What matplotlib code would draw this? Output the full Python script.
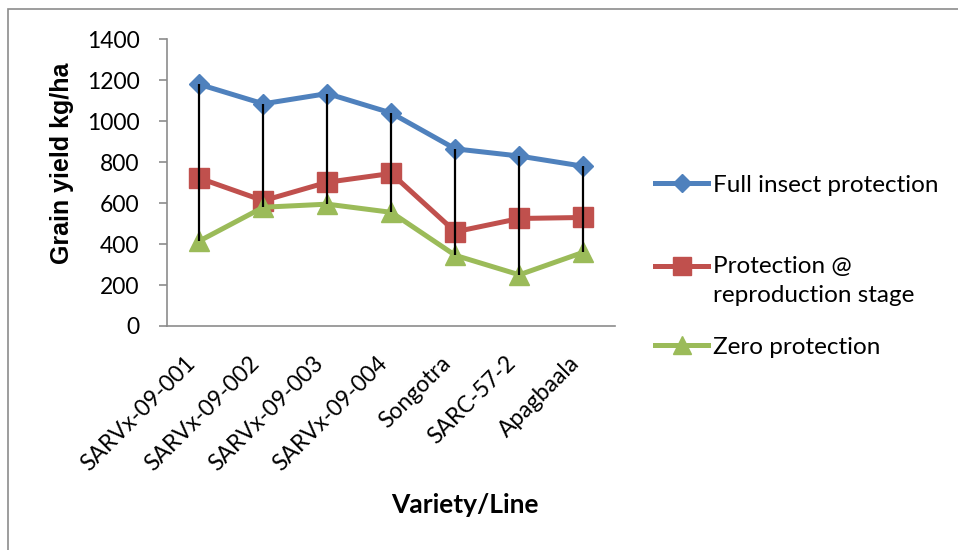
import matplotlib
matplotlib.use("Agg")
import matplotlib.pyplot as plt
from matplotlib.patches import Rectangle
import numpy as np

varieties = ["SARVx-09-001", "SARVx-09-002", "SARVx-09-003", "SARVx-09-004",
             "Songotra", "SARC-57-2", "Apagbaala"]
full_protection = [1180, 1085, 1135, 1040, 865, 830, 780]
reproduction_protection = [722, 612, 702, 745, 460, 525, 530]
zero_protection = [415, 580, 595, 555, 345, 250, 360]
y_ticks = [0, 200, 400, 600, 800, 1000, 1200, 1400]

series_labels = ["Full insect protection", "Protection @\nreproduction stage", "Zero protection"]
colors = ["#4F81BD", "#C0504D", "#9BBB59"]

FONT = "Lato"
W, H = 958, 550
fig = plt.figure(figsize=(W / 100, H / 100), dpi=100)

# chart border
fig.patches.append(Rectangle((8 / W, -0.1), 1.2, 1 - 9 / H + 0.1, transform=fig.transFigure,
                             fill=False, edgecolor="#8c8c8c", linewidth=1.2))

ax = fig.add_axes([167.3 / W, 1 - 326 / H, 448 / W, (326 - 39.3) / H])
x = np.arange(len(varieties))

h1, = ax.plot(x, full_protection, color=colors[0], lw=3.6, marker="D", markersize=10,
              solid_joinstyle="round", zorder=3)
h2, = ax.plot(x, reproduction_protection, color=colors[1], lw=3.6, marker="s", markersize=14,
              solid_joinstyle="round", zorder=3)
h3, = ax.plot(x, zero_protection, color=colors[2], lw=3.6, marker="^", markersize=15,
              solid_joinstyle="round", zorder=3)

# high-low lines
all_vals = np.array([full_protection, reproduction_protection, zero_protection])
ax.vlines(x, all_vals.min(axis=0), all_vals.max(axis=0), color="black", lw=1.6, zorder=4)

ax.set_xlim(-0.5, len(varieties) - 0.5)
ax.set_ylim(0, 1400)
ax.set_yticks(y_ticks)
ax.set_yticklabels([str(v) for v in y_ticks], fontsize=16.5, family=FONT)
ax.set_xticks(x)
ax.set_xticklabels(varieties, rotation=45, ha="right", va="top", fontsize=16.5, family=FONT)
ax.tick_params(axis="y", length=6, width=1.2, color="#8c8c8c", pad=14)
ax.tick_params(axis="x", length=0, pad=19)
for side in ["top", "right"]:
    ax.spines[side].set_visible(False)
for side in ["left", "bottom"]:
    ax.spines[side].set_color("#8c8c8c")
    ax.spines[side].set_linewidth(1.2)

fig.text(62 / W, 1 - 163 / H, "Grain yield kg/ha", rotation=90, ha="center", va="center",
         fontsize=18, fontweight="bold", family="Liberation Sans")
fig.text(465 / W, 1 - 505 / H, "Variety/Line", ha="center", va="center",
         fontsize=19, fontweight="bold", family=FONT)

# legend entries, one box each so they can be spaced freely
handles = [h1, h2, h3]
legend_y = [185, 281, 347]
for i, (hnd, lab, yy) in enumerate(zip(handles, series_labels, legend_y)):
    multiline = "\n" in lab
    leg = fig.legend([hnd], [lab], loc="center left", bbox_to_anchor=(655 / W, 1 - yy / H),
                     frameon=False, prop={"family": FONT, "size": 17.5}, handlelength=2.2,
                     handletextpad=0.2, borderpad=0, borderaxespad=0, markerscale=0.9,
                     handleheight=1.05 if multiline else 0.7)
    if multiline:
        for t in leg.get_texts():
            t.set_linespacing(1.5)
        item = leg._legend_handle_box.get_children()[0].get_children()[0]
        item.align = "top"

fig.savefig("out.png", dpi=100)
